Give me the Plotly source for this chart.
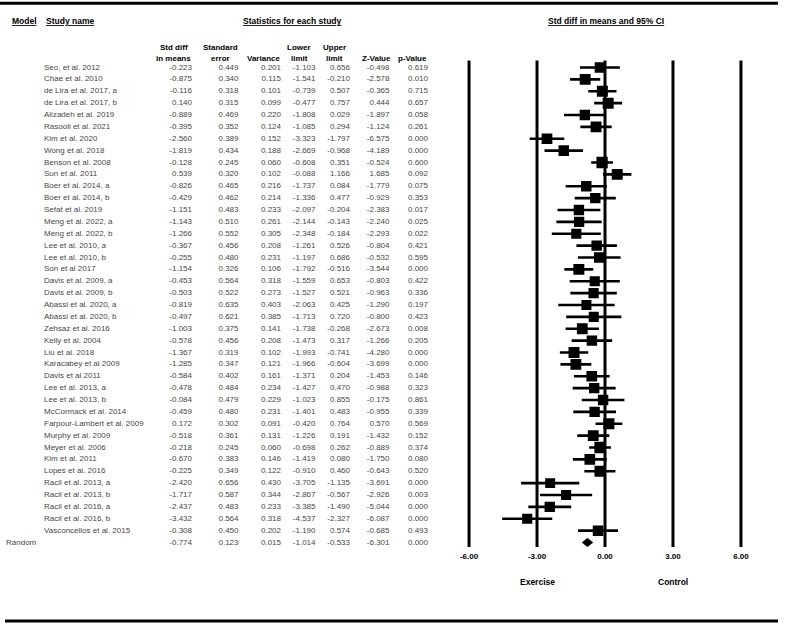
import plotly.graph_objects as go

# ---- data ----
studies = ["Seo, et al. 2012", "Chae et al. 2010", "de Lira et al. 2017, a", "de Lira et al. 2017, b",
           "Alizadeh et al. 2019", "Rasooli et al. 2021", "Kim et al. 2020", "Wong et al. 2018",
           "Benson et al. 2008", "Sun et al. 2011", "Boer et al. 2014, a", "Boer et al. 2014, b",
           "Sefat et al. 2019", "Meng et al. 2022, a", "Meng et al. 2022, b", "Lee et al. 2010, a",
           "Lee et al. 2010, b", "Son et al 2017", "Davis et al. 2009, a", "Davis et al. 2009, b",
           "Abassi et al. 2020, a", "Abassi et al. 2020, b", "Zehsaz et al. 2016", "Kelly et al. 2004",
           "Liu et al. 2018", "Karacabey et al 2009", "Davis et al 2011", "Lee et al. 2013, a",
           "Lee et al. 2013, b", "McCormack et al. 2014", "Farpour-Lambert et al. 2009", "Murphy et al. 2009",
           "Meyer et al. 2006", "Kim et al. 2011", "Lopes et al. 2016", "Racil et al. 2013, a",
           "Racil et al. 2013, b", "Racil et al. 2016, a", "Racil et al. 2016, b", "Vasconcellos et al. 2015"]

std_diff = [-0.223, -0.875, -0.116, 0.140, -0.889, -0.395, -2.560, -1.819, -0.128, 0.539,
            -0.826, -0.429, -1.151, -1.143, -1.266, -0.367, -0.255, -1.154, -0.453, -0.503,
            -0.819, -0.497, -1.003, -0.578, -1.367, -1.285, -0.584, -0.478, -0.084, -0.459,
            0.172, -0.518, -0.218, -0.670, -0.225, -2.420, -1.717, -2.437, -3.432, -0.308]
std_err = [0.449, 0.340, 0.318, 0.315, 0.469, 0.352, 0.389, 0.434, 0.245, 0.320,
           0.465, 0.462, 0.483, 0.510, 0.552, 0.456, 0.480, 0.326, 0.564, 0.522,
           0.635, 0.621, 0.375, 0.456, 0.319, 0.347, 0.402, 0.484, 0.479, 0.480,
           0.302, 0.361, 0.245, 0.383, 0.349, 0.656, 0.587, 0.483, 0.564, 0.450]
variance = [0.201, 0.115, 0.101, 0.099, 0.220, 0.124, 0.152, 0.188, 0.060, 0.102,
            0.216, 0.214, 0.233, 0.261, 0.305, 0.208, 0.231, 0.106, 0.318, 0.273,
            0.403, 0.385, 0.141, 0.208, 0.102, 0.121, 0.161, 0.234, 0.229, 0.231,
            0.091, 0.131, 0.060, 0.146, 0.122, 0.430, 0.344, 0.233, 0.318, 0.202]
lower = [-1.103, -1.541, -0.739, -0.477, -1.808, -1.085, -3.323, -2.669, -0.608, -0.088,
         -1.737, -1.336, -2.097, -2.144, -2.348, -1.261, -1.197, -1.792, -1.559, -1.527,
         -2.063, -1.713, -1.738, -1.473, -1.993, -1.966, -1.371, -1.427, -1.023, -1.401,
         -0.420, -1.226, -0.698, -1.419, -0.910, -3.705, -2.867, -3.385, -4.537, -1.190]
upper = [0.656, -0.210, 0.507, 0.757, 0.029, 0.294, -1.797, -0.968, 0.351, 1.166,
         0.084, 0.477, -0.204, -0.143, -0.184, 0.526, 0.686, -0.516, 0.653, 0.521,
         0.425, 0.720, -0.268, 0.317, -0.741, -0.604, 0.204, 0.470, 0.855, 0.483,
         0.764, 0.191, 0.262, 0.080, 0.460, -1.135, -0.567, -1.490, -2.327, 0.574]
z_value = [-0.498, -2.578, -0.365, 0.444, -1.897, -1.124, -6.575, -4.189, -0.524, 1.685,
           -1.779, -0.929, -2.383, -2.240, -2.293, -0.804, -0.532, -3.544, -0.803, -0.963,
           -1.290, -0.800, -2.673, -1.266, -4.280, -3.699, -1.453, -0.988, -0.175, -0.955,
           0.570, -1.432, -0.889, -1.750, -0.643, -3.691, -2.926, -5.044, -6.087, -0.685]
p_value = [0.619, 0.010, 0.715, 0.657, 0.058, 0.261, 0.000, 0.000, 0.600, 0.092,
           0.075, 0.353, 0.017, 0.025, 0.022, 0.421, 0.595, 0.000, 0.422, 0.336,
           0.197, 0.423, 0.008, 0.205, 0.000, 0.000, 0.146, 0.323, 0.861, 0.339,
           0.569, 0.152, 0.374, 0.080, 0.520, 0.000, 0.003, 0.000, 0.000, 0.493]

# pooled (random effects) row
pooled_model = "Random"
pooled_diff, pooled_se, pooled_var = -0.774, 0.123, 0.015
pooled_lower, pooled_upper = -1.014, -0.533
pooled_z, pooled_p = -6.301, 0.000

tick_vals = [-6, -3, 0, 3, 6]
tick_text = ["-6.00", "-3.00", "0.00", "3.00", "6.00"]
side_labels = [(-3, "Exercise"), (3, "Control")]

# ---- layout helpers (pixels of the 787x628 page) ----
W, H = 787, 628
ROW0, ROWH = 67.5, 11.875


def row_of(py):
    return (py - ROW0) / ROWH


FONT = "Liberation Sans, Arial, sans-serif"
GREY = "#474747"

n = len(studies)
rows = list(range(n))
pooled_row = n

fig = go.Figure()

# CI whiskers + squares, size by inverse variance
sizes = [9 + 0.6 / (v + 0.2) for v in variance]
fig.add_trace(go.Scatter(
    x=std_diff, y=rows, mode="markers",
    marker=dict(symbol="square", size=sizes, color="black", opacity=1, line=dict(width=0)),
    error_x=dict(type="data", symmetric=False,
                 array=[u - d for u, d in zip(upper, std_diff)],
                 arrayminus=[d - l for d, l in zip(std_diff, lower)],
                 thickness=2.6, width=0, color="black"),
    hoverinfo="skip", showlegend=False))

# pooled diamond
fig.add_trace(go.Scatter(
    x=[pooled_lower, pooled_diff, pooled_upper, pooled_diff, pooled_lower],
    y=[pooled_row, pooled_row - 0.36, pooled_row, pooled_row + 0.36, pooled_row],
    mode="lines", fill="toself", fillcolor="black", line=dict(color="black", width=0.5),
    hoverinfo="skip", showlegend=False))

# table columns (right aligned numbers)
all_rows = rows + [pooled_row]
columns = [
    ("Std diff", "in means", std_diff + [pooled_diff], 192, 173.5),
    ("Standard", "error", std_err + [pooled_se], 238.5, 220.5),
    ("", "Variance", variance + [pooled_var], 281, 263.5),
    ("Lower", "limit", lower + [pooled_lower], 315.5, 299),
    ("Upper", "limit", upper + [pooled_upper], 350, 334),
    ("", "Z-Value", z_value + [pooled_z], 389.5, 376),
    ("", "p-Value", p_value + [pooled_p], 428, 412),
]
for h1, h2, vals, xr, xc in columns:
    fig.add_trace(go.Scatter(
        x=[xr] * len(vals), y=all_rows, text=["%.3f" % v for v in vals],
        mode="text", textposition="middle left",
        textfont=dict(family=FONT, size=8, color=GREY),
        xaxis="x2", yaxis="y", hoverinfo="skip", showlegend=False))
    for txt, py in [(h1, 47.5), (h2, 58.3)]:
        if txt:
            fig.add_annotation(x=xc, y=row_of(py), xref="x2", yref="y", text="<b>%s</b>" % txt,
                               showarrow=False, xanchor="center", yanchor="middle",
                               font=dict(family=FONT, size=8, color="black"))

# study names + model label
fig.add_trace(go.Scatter(
    x=[44] * n, y=rows, text=studies, mode="text", textposition="middle right",
    textfont=dict(family=FONT, size=8, color=GREY),
    xaxis="x2", yaxis="y", hoverinfo="skip", showlegend=False))
fig.add_trace(go.Scatter(
    x=[6], y=[pooled_row], text=[pooled_model], mode="text", textposition="middle right",
    textfont=dict(family=FONT, size=8, color=GREY),
    xaxis="x2", yaxis="y", hoverinfo="skip", showlegend=False))

# top headers (underlined)
for txt, xc, anchor in [("Model", 10, "left"), ("Study name", 44, "left"),
                        ("Statistics for each study", 292.5, "center"),
                        ("Std diff in means and 95% CI", 605.5, "center")]:
    fig.add_annotation(x=xc, y=row_of(20.5), xref="x2", yref="y", text="<b><u>%s</u></b>" % txt,
                       showarrow=False, xanchor=anchor, yanchor="middle",
                       font=dict(family=FONT, size=8.5, color="black"))

# vertical reference lines of the forest panel
for v in tick_vals:
    fig.add_shape(type="line", x0=v, x1=v, y0=row_of(60.5), y1=row_of(547), xref="x", yref="y",
                  line=dict(color="black", width=3), layer="below")

for v, txt in side_labels:
    fig.add_annotation(x=v, y=row_of(582), xref="x", yref="y", text="<b>%s</b>" % txt,
                       showarrow=False, font=dict(family=FONT, size=8.5, color="black"))

# horizontal rules top and bottom
fig.add_shape(type="line", x0=0, x1=778 / W, y0=1 - 3.3 / H, y1=1 - 3.3 / H,
              xref="paper", yref="paper", line=dict(color="black", width=3))
fig.add_shape(type="line", x0=5 / W, x1=778 / W, y0=1 - 621 / H, y1=1 - 621 / H,
              xref="paper", yref="paper", line=dict(color="black", width=3))

fig.update_layout(
    width=W, height=H, margin=dict(l=0, r=0, t=0, b=0, pad=0),
    paper_bgcolor="white", plot_bgcolor="rgba(0,0,0,0)",
    xaxis=dict(domain=[457.7 / W, 752.3 / W], range=[-6.5, 6.5], anchor="free",
               position=1 - 550.0 / H, showgrid=False, zeroline=False, showline=False,
               ticks="", tickvals=tick_vals, ticktext=tick_text,
               tickfont=dict(family=FONT, size=8, color="black", weight="bold")),
    xaxis2=dict(domain=[0, 1], range=[0, W], visible=False, anchor="y"),
    yaxis=dict(domain=[0, 1], range=[row_of(H), row_of(0)], visible=False),
)

# page body has a default 8px margin; drop it so the figure sits at the window corner
fig.write_html("out.html", config={"displayModeBar": False},
               post_script="document.body.style.margin='0px';")
